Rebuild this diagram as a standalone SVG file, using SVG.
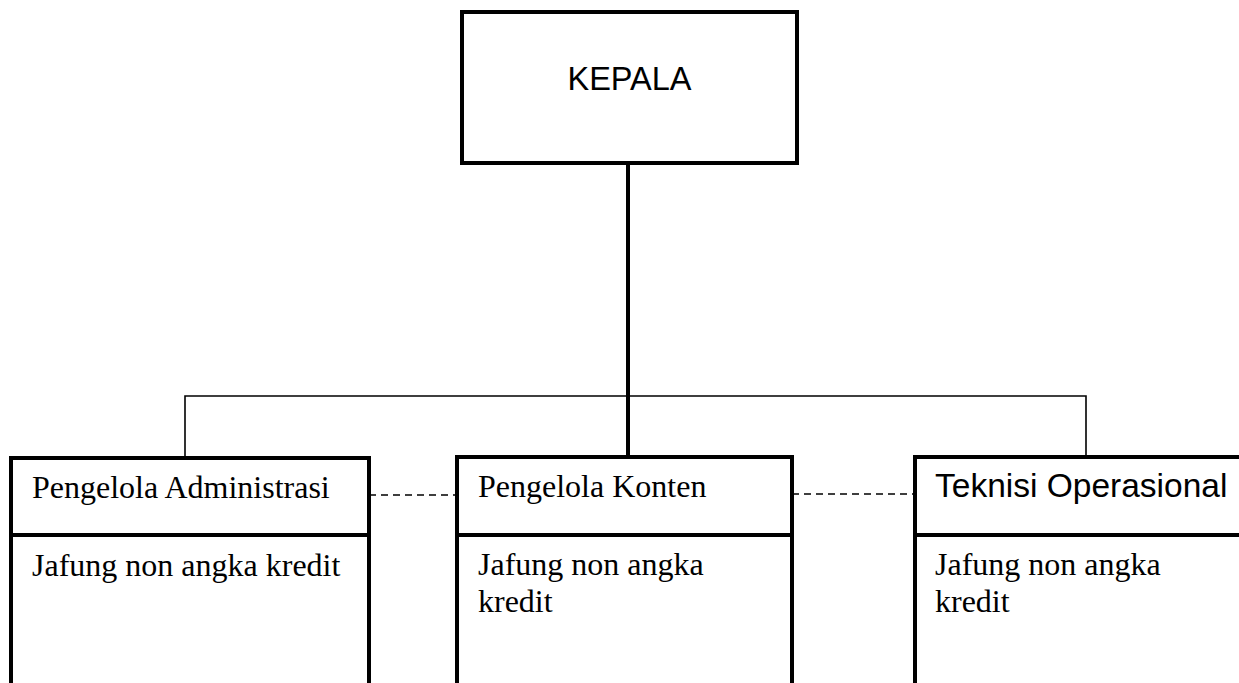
<svg xmlns="http://www.w3.org/2000/svg" width="1239" height="683" viewBox="0 0 1239 683">
  <style>
    .box { fill: #fff; stroke: #000; stroke-width: 4; }
    .div { stroke: #000; stroke-width: 4; }
    .thin { stroke: #000; stroke-width: 1.6; fill: none; }
    .thick { stroke: #000; stroke-width: 4; fill: none; }
    .dash { stroke: #000; stroke-width: 1.6; stroke-dasharray: 7 5; fill: none; }
    .serif { font-family: "Liberation Serif", "Times New Roman", serif; font-size: 32px; fill: #000; }
    .sans { font-family: "Liberation Sans", Arial, sans-serif; font-size: 32.5px; fill: #000; }
  </style>
  <rect width="1239" height="683" fill="#fff"/>
  <g id="connectors">
    <line class="thick" x1="628" y1="163" x2="628" y2="457"/>
    <polyline class="thin" points="185,458 185,396 1086,396 1086,457"/>
    <line class="dash" x1="369" y1="495" x2="457" y2="495"/>
    <line class="dash" x1="792" y1="494" x2="915" y2="494"/>
  </g>
  <g id="kepala">
    <rect class="box" x="462" y="12" width="335" height="151"/>
    <text class="sans" x="629.5" y="90" text-anchor="middle">KEPALA</text>
  </g>
  <g id="pengelola-administrasi">
    <rect class="box" x="11" y="458" width="358" height="240"/>
    <line class="div" x1="11" y1="535" x2="369" y2="535"/>
    <text class="serif" x="32" y="498">Pengelola Administrasi</text>
    <text class="serif" x="32" y="576">Jafung non angka kredit</text>
  </g>
  <g id="pengelola-konten">
    <rect class="box" x="457" y="457" width="335" height="240"/>
    <line class="div" x1="457" y1="535" x2="792" y2="535"/>
    <text class="serif" x="478" y="497">Pengelola Konten</text>
    <text class="serif" x="478" y="575">Jafung non angka</text>
    <text class="serif" x="478" y="612">kredit</text>
  </g>
  <g id="teknisi-operasional">
    <rect class="box" x="915" y="457" width="340" height="240"/>
    <line class="div" x1="915" y1="535" x2="1245" y2="535"/>
    <text class="sans" x="935" y="497" style="font-size:33.5px">Teknisi Operasional</text>
    <text class="serif" x="935" y="575">Jafung non angka</text>
    <text class="serif" x="935" y="612">kredit</text>
  </g>
</svg>
